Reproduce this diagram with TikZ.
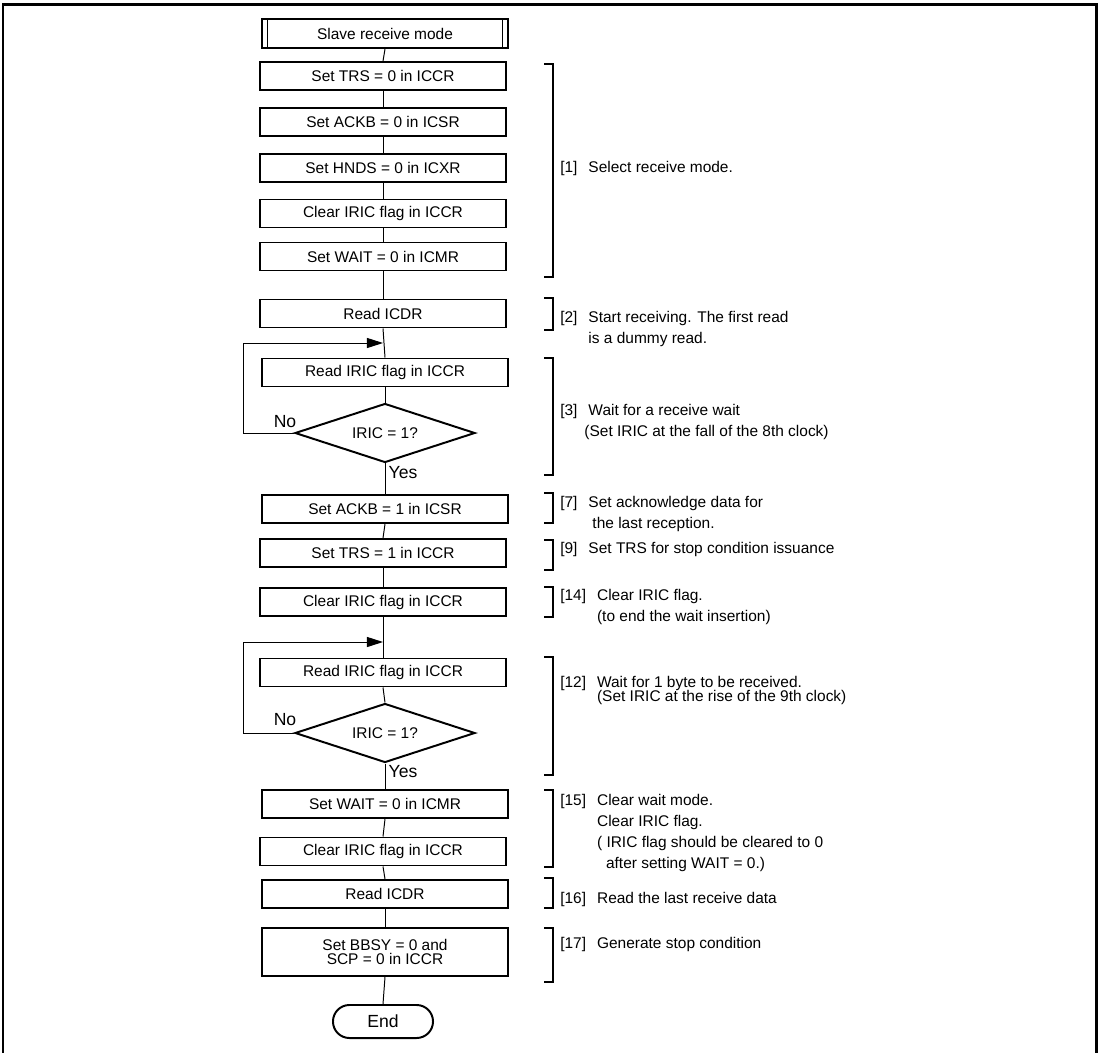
\documentclass[tikz,border=0pt]{standalone}
\usepackage{fontspec}
\setmainfont{Liberation Sans}
\usetikzlibrary{shapes.geometric,arrows.meta}

\begin{document}
\begin{tikzpicture}[x=0.025cm, y=-0.025cm,
  proc/.style={draw, line width=1.4pt, minimum width=6.15cm, minimum height=0.7cm, inner sep=0pt, font=\fontsize{11}{13}\selectfont},
  dec/.style={draw, diamond, aspect=3, line width=1.4pt, minimum width=4.5cm, minimum height=1.475cm, inner sep=0pt, font=\fontsize{11}{13}\selectfont},
  term/.style={draw, rounded corners=0.41cm, line width=1.4pt, minimum width=2.5cm, minimum height=0.825cm, font=\fontsize{12.5}{14}\selectfont},
  flow/.style={line width=0.7pt},
  brk/.style={line width=0.8pt},
  note/.style={anchor=base west, inner sep=0pt, font=\fontsize{11}{15}\selectfont},
  yn/.style={inner sep=0pt, font=\fontsize{12.5}{14}\selectfont}]
  \useasboundingbox (0,0) rectangle (1100,1053);
  % frame, open at the bottom
  \draw[line width=1.85pt] (3,1053) -- (3,4.5) -- (1096.5,4.5) -- (1096.5,1053);

  % flow chart
  \node[proc, minimum height=0.725cm] (start) at (385,33.5) {Slave receive mode};
  \draw[flow] ([xshift=0.175cm]start.north west) -- ([xshift=0.175cm]start.south west);
  \draw[flow] ([xshift=-0.175cm]start.north east) -- ([xshift=-0.175cm]start.south east);
  \node[proc] (trs0) at (383,76) {Set TRS = 0 in ICCR};
  \node[proc] (ackb0) at (383,122) {Set ACKB = 0 in ICSR};
  \node[proc] (hnds0) at (383,168) {Set HNDS = 0 in ICXR};
  \node[proc] (clr1) at (383,213.5) {Clear IRIC flag in ICCR};
  \node[proc] (wait1) at (383,256.5) {Set WAIT = 0 in ICMR};
  \node[proc] (rd1) at (383,313.5) {Read ICDR};
  \coordinate (j1) at (383,343);
  \node[proc] (iric1) at (385,372.5) {Read IRIC flag in ICCR};
  \node[dec] (chk1) at (385,433) {IRIC = 1?};
  \node[proc] (ackb1) at (385,509) {Set ACKB = 1 in ICSR};
  \node[proc] (trs1) at (383,553) {Set TRS = 1 in ICCR};
  \node[proc] (clr2) at (383,602) {Clear IRIC flag in ICCR};
  \coordinate (j2) at (383,642);
  \node[proc] (iric2) at (383,672.5) {Read IRIC flag in ICCR};
  \node[dec] (chk2) at (385,733) {IRIC = 1?};
  \node[proc] (wait2) at (385,804) {Set WAIT = 0 in ICMR};
  \node[proc] (clr3) at (383,851.5) {Clear IRIC flag in ICCR};
  \node[proc] (rd2) at (385,894) {Read ICDR};
  \node[proc, minimum height=1.2cm, align=center, font=\fontsize{11}{10.6}\selectfont] (bbsy) at (385,952) {Set BBSY = 0 and\\SCP = 0 in ICCR};
  \node[term] (fin) at (383,1021.5) {End};

  \foreach \a/\b in {start/trs0, trs0/ackb0, ackb0/hnds0, hnds0/clr1, clr1/wait1, wait1/rd1,
      rd1/iric1, iric1/chk1, chk1/ackb1, ackb1/trs1, trs1/clr2, clr2/iric2, iric2/chk2,
      chk2/wait2, wait2/clr3, clr3/rd2, rd2/bbsy, bbsy/fin}
    \draw[flow] (\a.south) -- (\b.north);

  % loops back on No
  \draw[flow, -{Triangle[length=0.4cm, width=0.25cm]}] (chk1.west) -- ++(-51,0) |- (j1);
  \draw[flow, -{Triangle[length=0.4cm, width=0.25cm]}] (chk2.west) -- ++(-51,0) |- (j2);
  \node[yn] (no1) at (285,422) {No};
  \node[yn] (yes1) at (403,473) {Yes};
  \node[yn] (no2) at (285,720) {No};
  \node[yn] (yes2) at (403,772) {Yes};

  % brackets
  \foreach \t/\b in {64/277, 298/330, 358/475, 493/523, 540/570, 587/617, 657/775, 790/867, 878/908, 928/982}
    \draw[brk] (544,\t) -- (553,\t) -- (553,\b) -- (544,\b);

  % notes
  \node[note] (n1) at (560,172.5) {\begin{tabular}[t]{@{}l@{\hspace{0.275cm}}l@{}}[1] & Select receive mode.\end{tabular}};
  \node[note] (n2) at (560,322.5) {\begin{tabular}[t]{@{}l@{\hspace{0.275cm}}l@{}}[2] & Start receiving. The first read\\ & is a dummy read.\end{tabular}};
  \node[note] (n3) at (560,415.5) {\begin{tabular}[t]{@{}l@{\hspace{0.275cm}}l@{}}[3] & Wait for a receive wait\\ & \hspace*{-0.1cm}(Set IRIC at the fall of the 8th clock)\end{tabular}};
  \node[note] (n7) at (560,507.5) {\begin{tabular}[t]{@{}l@{\hspace{0.275cm}}l@{}}[7] & Set acknowledge data for\\ & \hspace*{0.1cm}the last reception.\end{tabular}};
  \node[note] (n9) at (560,553.5) {\begin{tabular}[t]{@{}l@{\hspace{0.275cm}}l@{}}[9] & Set TRS for stop condition issuance\end{tabular}};
  \node[note] (n14) at (560,600.5) {\begin{tabular}[t]{@{}l@{\hspace{0.275cm}}l@{}}[14] & Clear IRIC flag.\\ & (to end the wait insertion)\end{tabular}};
  \node[note] (n12) at (560,687) {\begin{tabular}[t]{@{}l@{\hspace{0.275cm}}l@{}}[12] & Wait for 1 byte to be received.\\[-5pt] & (Set IRIC at the rise of the 9th clock)\end{tabular}};
  \node[note] (n15) at (560,805.5) {\begin{tabular}[t]{@{}l@{\hspace{0.275cm}}l@{}}[15] & Clear wait mode.\\ & Clear IRIC flag.\\ & ( IRIC flag should be cleared to 0\\ & \hspace*{0.225cm}after setting WAIT = 0.)\end{tabular}};
  \node[note] (n16) at (560,903.5) {\begin{tabular}[t]{@{}l@{\hspace{0.275cm}}l@{}}[16] & Read the last receive data\end{tabular}};
  \node[note] (n17) at (560,948.5) {\begin{tabular}[t]{@{}l@{\hspace{0.275cm}}l@{}}[17] & Generate stop condition\end{tabular}};
\end{tikzpicture}
\end{document}
